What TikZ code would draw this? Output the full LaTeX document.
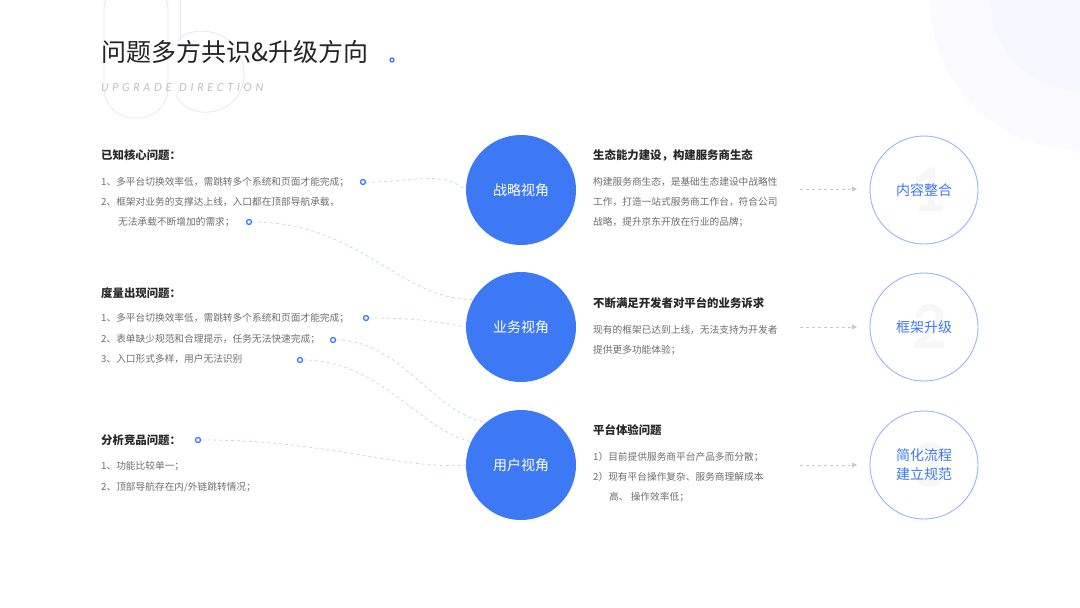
\documentclass[tikz,border=0pt]{standalone}
\usepackage{fontspec}
\setmainfont{Noto Sans CJK SC}
\newfontfamily\latinfont{Lato}
\usetikzlibrary{positioning,arrows.meta}
\definecolor{viewblue}{RGB}{61,120,245}
\definecolor{ringblue}{RGB}{150,180,245}
\definecolor{dashblue}{RGB}{200,215,250}
\definecolor{headgray}{RGB}{40,40,40}
\definecolor{bodygray}{RGB}{110,110,110}
\definecolor{arrowgray}{RGB}{200,200,200}

\tikzset{
  heading/.style={anchor=west,font=\fontsize{11.4}{13}\selectfont\bfseries,text=headgray,inner sep=0pt},
  bodyline/.style={anchor=west,font=\fontsize{9.7}{11}\selectfont,text=bodygray,inner sep=0pt},
  viewdisc/.style={circle,fill=viewblue,minimum size=110pt,inner sep=0pt,text=white,font=\fontsize{14}{16}\selectfont},
  goalring/.style={circle,draw=ringblue,line width=0.9pt,minimum size=108pt,inner sep=0pt,text=viewblue,font=\fontsize{14}{19}\selectfont,align=center},
  pin/.style={circle,draw=viewblue,line width=1.3pt,minimum size=5pt,inner sep=0pt},
  link/.style={draw=dashblue,dashed,line width=0.8pt},
  flow/.style={draw=arrowgray,dashed,line width=0.8pt,-{Triangle[length=5pt,width=5pt]}}
}

\begin{document}
\begin{tikzpicture}[x=1pt,y=-1pt]
    \useasboundingbox (0,0) rectangle (1080,608);
    \fill[white] (0,0) rectangle (1080,608);
    % soft glow top right
    \fill[blue!2] (1080,0) circle (150);
    \fill[blue!3] (1080,0) circle (90);

    % big watermark number (outlined)
    \draw[blue!10,line width=0.8pt,rounded corners=30] (104,-20) rectangle (168,118);
    \draw[blue!10,line width=0.8pt] (180,-20) -- (180,40);
    \draw[blue!10,line width=0.8pt] (178,40) .. controls (190,25) and (240,25) .. (244,72) .. controls (246,115) and (190,125) .. (176,95);

    % title
    \node[anchor=west,inner sep=0pt,text=headgray!90!black,font=\fontsize{25}{28}\selectfont] (title) at (101,52) {问题多方共识\&升级方向};
    \node[pin,minimum size=4pt] (titledot) at (392,60) {};
    \node[anchor=west,inner sep=0pt,text=black!25,font=\latinfont\itshape\fontsize{11}{12}\selectfont] (subtitle) at (101,88) {U\,\,P\,\,G\,\,R\,\,A\,\,D\,\,E\ \ \ D\,\,I\,\,R\,\,E\,\,C\,\,T\,\,I\,\,O\,\,N};

    % left column
    \node[heading] (known) at (101,155) {已知核心问题：};
    \node[bodyline] (k1) at (101,182) {1、多平台切换效率低，需跳转多个系统和页面才能完成；};
    \node[bodyline] (k2) at (101,202) {2、框架对业务的支撑达上线，入口都在顶部导航承载，};
    \node[bodyline] (k3) at (118,222) {无法承载不断增加的需求；};

    \node[heading] (measure) at (101,293) {度量出现问题：};
    \node[bodyline] (m1) at (101,318) {1、多平台切换效率低，需跳转多个系统和页面才能完成；};
    \node[bodyline] (m2) at (101,339) {2、表单缺少规范和合理提示，任务无法快速完成；};
    \node[bodyline] (m3) at (101,359) {3、入口形式多样，用户无法识别};

    \node[heading] (rival) at (101,440) {分析竞品问题：};
    \node[bodyline] (r1) at (101,466) {1、功能比较单一；};
    \node[bodyline] (r2) at (101,487) {2、顶部导航存在内/外链跳转情况；};

    \node[pin] (p1) at (363,182) {};
    \node[pin] (p2) at (249,222) {};
    \node[pin] (p3) at (366,318) {};
    \node[pin] (p4) at (333,340) {};
    \node[pin] (p5) at (300,360) {};
    \node[pin] (p6) at (198,440) {};

    % view discs
    \node[viewdisc] (strategy) at (521,190) {战略视角};
    \node[viewdisc] (business) at (521,327) {业务视角};
    \node[viewdisc] (user) at (521,465) {用户视角};

    % dashed links
    \draw[link] (p1) .. controls (420,182) and (440,170) .. (strategy.west);
    \draw[link] (p2) .. controls (360,222) and (400,300) .. (business.150);
    \draw[link] (p3) .. controls (420,318) and (440,322) .. (business.west);
    \draw[link] (p4) .. controls (400,340) and (430,410) .. (user.130);
    \draw[link] (p5) .. controls (380,360) and (420,430) .. (user.155);
    \draw[link] (p6) .. controls (330,440) and (400,470) .. (user.west);

    % middle column
    \node[heading] (eco) at (593,155) {生态能力建设，构建服务商生态};
    \node[bodyline] (e1) at (593,182) {构建服务商生态，是基础生态建设中战略性};
    \node[bodyline] (e2) at (593,202) {工作，打造一站式服务商工作台，符合公司};
    \node[bodyline] (e3) at (593,222) {战略，提升京东开放在行业的品牌；};

    \node[heading] (dev) at (593,303) {不断满足开发者对平台的业务诉求};
    \node[bodyline] (d1) at (593,330) {现有的框架已达到上线，无法支持为开发者};
    \node[bodyline] (d2) at (593,350) {提供更多功能体验；};

    \node[heading] (exp) at (593,430) {平台体验问题};
    \node[bodyline] (x1) at (593,457) {1）目前提供服务商平台产品多而分散；};
    \node[bodyline] (x2) at (593,477) {2）现有平台操作复杂、服务商理解成本};
    \node[bodyline] (x3) at (609,497) {高、 操作效率低；};

    % goal rings
    \foreach \num/\y in {1/190,2/327,3/465}
      \node[text=black!3,font=\latinfont\bfseries\fontsize{60}{60}\selectfont] at (930,\y) {\num};
    \node[goalring] (merge) at (924,190) {内容整合};
    \node[goalring] (frame) at (924,327) {框架升级};
    \node[goalring] (simplify) at (924,465) {简化流程\\建立规范};

    \coordinate (a1) at (800,189);
    \coordinate (a2) at (800,327);
    \coordinate (a3) at (800,465);
    \draw[flow] (a1) -- ++(57,0);
    \draw[flow] (a2) -- ++(57,0);
    \draw[flow] (a3) -- ++(57,0);
\end{tikzpicture}
\end{document}
